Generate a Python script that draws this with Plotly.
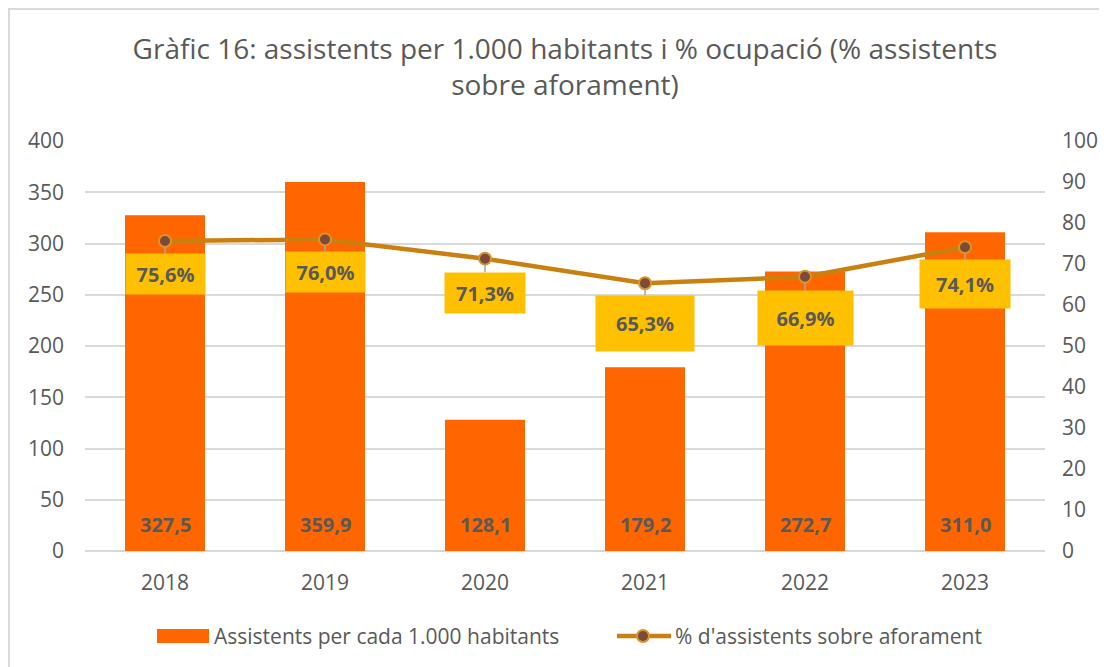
import plotly.graph_objects as go

years = ["2018", "2019", "2020", "2021", "2022", "2023"]
assistents = [327.5, 359.9, 128.1, 179.2, 272.7, 311.0]
ocupacio = [75.6, 76.0, 71.3, 65.3, 66.9, 74.1]

bar_name = "Assistents per cada 1.000 habitants"
line_name = "% d'assistents sobre aforament"
title_text = "Gràfic 16: assistents per 1.000 habitants i % ocupació (% assistents<br>sobre aforament)"

FONT = "Open Sans"
GRAY = "#595959"
BAR_COLOR = "#FF6600"
LINE_COLOR = "#C9800F"
MARKER_FILL = "#7B4A3A"
MARKER_EDGE = "#D9952B"

# label box geometry (px): offset below point, width, height
label_offsets = [33, 33, 34, 40, 41, 37]
label_w = [77, 77, 78, 96, 93, 88]
label_h = [38, 38, 38, 53, 52, 46]

# page body has an 8px margin: figure coords = reference coords - 8
L, T, PW, PH = 77, 133, 960, 410
W, H = 1099, 659


def px_x(fx):
    return (fx - L) / PW


def px_y(fy):
    return (T + PH - fy) / PH


def fmt(v):
    return f"{v:.1f}".replace(".", ",")


fig = go.Figure()
fig.add_trace(go.Bar(
    x=years, y=assistents, name=bar_name,
    marker=dict(color=BAR_COLOR, line=dict(width=0)),
    width=0.5, yaxis="y", showlegend=False,
))
fig.add_trace(go.Scatter(
    x=years, y=ocupacio, name=line_name, yaxis="y2",
    mode="lines+markers",
    line=dict(color=LINE_COLOR, width=4.5),
    marker=dict(size=12, color=MARKER_FILL, line=dict(color=MARKER_EDGE, width=2)),
    showlegend=False,
))

annotations = []
for i, v in enumerate(assistents):
    annotations.append(dict(
        x=i, y=0, xref="x", yref="y", text=f"<b>{fmt(v)}</b>",
        showarrow=False, yanchor="bottom", yshift=11,
        font=dict(family=FONT, size=20, color=GRAY),
    ))
for i, (v, off, w, h) in enumerate(zip(ocupacio, label_offsets, label_w, label_h)):
    annotations.append(dict(
        x=i, y=v, xref="x", yref="y2", text=f"<b>{fmt(v)}%</b>",
        showarrow=True, arrowhead=0, arrowwidth=1.5, arrowcolor="#A6A6A6",
        ax=0, ay=off, standoff=6,
        bgcolor="#FFC000", width=w, height=h, valign="middle",
        font=dict(family=FONT, size=20, color=GRAY),
    ))

# custom legend
annotations.append(dict(x=px_x(204), y=px_y(628), xref="paper", yref="paper", text=bar_name,
                        showarrow=False, xanchor="left", yanchor="middle",
                        font=dict(family=FONT, size=21, color=GRAY)))
annotations.append(dict(x=px_x(665), y=px_y(628), xref="paper", yref="paper", text=line_name,
                        showarrow=False, xanchor="left", yanchor="middle",
                        font=dict(family=FONT, size=21, color=GRAY)))

shapes = [
    dict(type="rect", xref="paper", yref="paper",
         x0=px_x(1), x1=px_x(1110), y0=px_y(670), y1=px_y(1),
         line=dict(color="#D9D9D9", width=2), fillcolor="rgba(0,0,0,0)", layer="below"),
    dict(type="rect", xref="paper", yref="paper",
         x0=px_x(149), x1=px_x(201), y0=px_y(635), y1=px_y(621),
         line=dict(width=0), fillcolor=BAR_COLOR),
    dict(type="line", xref="paper", yref="paper",
         x0=px_x(609), x1=px_x(663), y0=px_y(628), y1=px_y(628),
         line=dict(color=LINE_COLOR, width=4.5)),
    dict(type="circle", xref="paper", yref="paper",
         x0=px_x(629), x1=px_x(641), y0=px_y(634), y1=px_y(622),
         line=dict(color=MARKER_EDGE, width=2), fillcolor=MARKER_FILL),
]

fig.update_layout(
    width=W, height=H,
    paper_bgcolor="white", plot_bgcolor="white",
    margin=dict(l=L, r=W - L - PW, t=T, b=H - T - PH, autoexpand=False),
    font=dict(family=FONT, color=GRAY),
    title=dict(text=title_text, x=557 / W, xanchor="center", y=1 - 51 / H, yanchor="middle",
               font=dict(family=FONT, size=28, color=GRAY)),
    xaxis=dict(type="category", range=[-0.5, 5.5], showgrid=False, showline=False, ticks="",
               tickfont=dict(size=21, color=GRAY), ticklabelstandoff=17),
    yaxis=dict(range=[0, 400], dtick=50, showgrid=True, gridcolor="#D9D9D9", gridwidth=1.5,
               zeroline=True, zerolinecolor="#D9D9D9", zerolinewidth=1.5,
               tickfont=dict(size=21, color=GRAY), ticklabelstandoff=20),
    yaxis2=dict(range=[0, 100], dtick=10, overlaying="y", side="right", showgrid=False,
                zeroline=False, tickfont=dict(size=21, color=GRAY), ticklabelstandoff=16),
    showlegend=False,
    annotations=annotations,
    shapes=shapes,
)

fig.write_html("out.html")
